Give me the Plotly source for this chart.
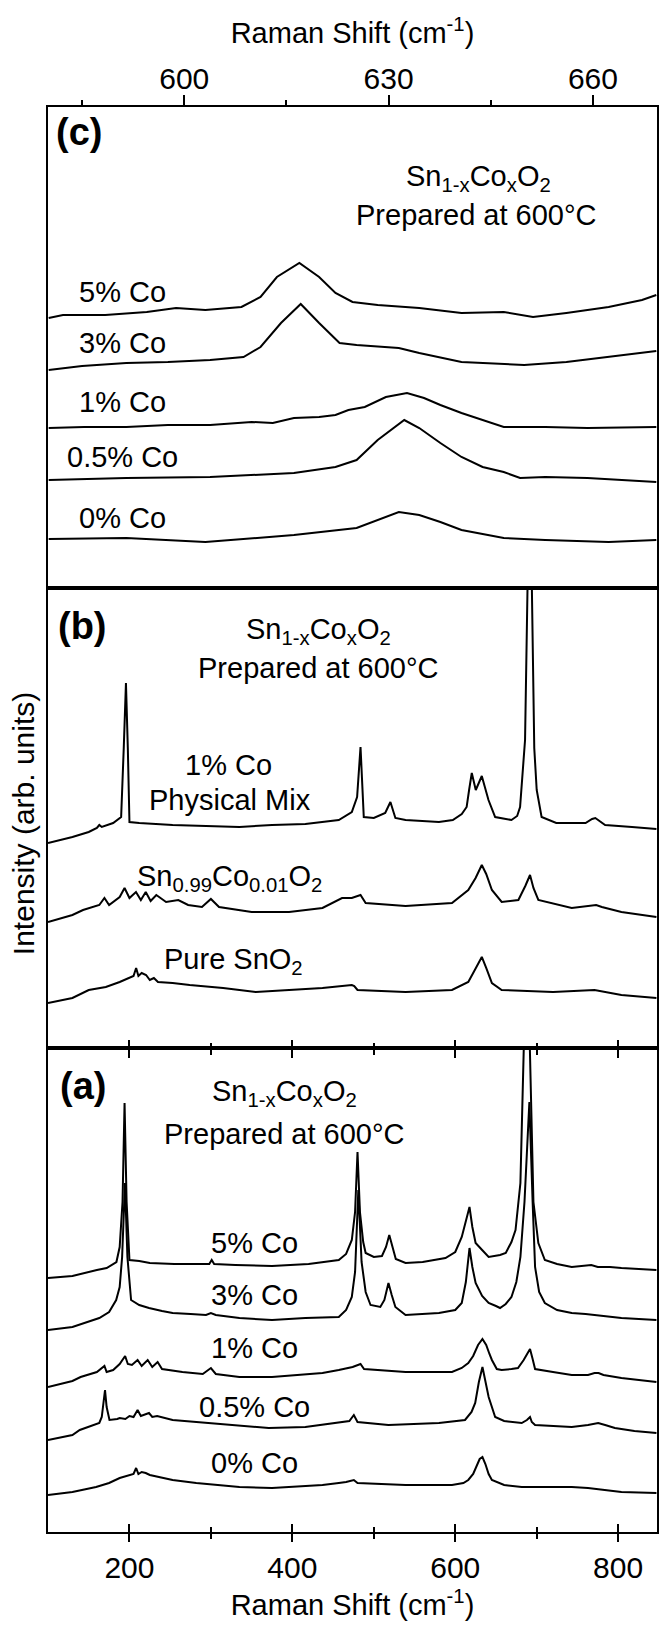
import plotly.graph_objects as go

# ---------------- spectra: (a) Sn1-xCoxO2, full range ----------------
a_co5_shift = [100, 130, 160, 172, 184, 188, 191.5, 194, 196.5, 200, 212, 225, 255, 290, 298, 301, 304, 330, 375, 420,
               457, 466, 473, 477, 480, 483, 487, 490, 500, 510, 515, 519, 523, 527, 539, 560, 588, 600, 608, 613,
               617.5, 621, 625, 633, 641, 655, 662, 669, 674, 680, 688, 696, 702, 710, 725, 743, 760, 767, 775, 790,
               804, 825, 847]
a_co5_int = [254, 256, 262, 264, 270, 285, 330, 429, 330, 272, 271, 269, 268, 268, 268, 272, 268, 267, 266, 268,
             272, 278, 292, 320, 380, 320, 290, 279, 275, 276, 285, 297, 285, 273, 269, 270, 274, 280, 295, 310,
             325, 305, 289, 282, 275, 277, 279, 290, 302, 349, 610, 330, 289, 272, 268, 265, 266, 267, 265, 265,
             264, 263, 262]

a_co3_shift = [100, 130, 163, 175, 183.7, 188, 191, 194.5, 197.5, 200, 202, 212, 224, 240, 253, 275, 294, 300, 306, 335,
               375, 416, 457, 466, 473, 477, 481, 485, 490, 496, 508, 513, 518, 522, 526.5, 539, 560, 580, 600, 608,
               613, 617.5, 621, 625, 633, 641, 650, 655, 662, 669, 675, 680, 685, 691, 695, 698, 703, 710, 725, 743,
               760, 771, 790, 804, 847]
a_co3_int = [202, 205, 214, 220, 232, 245, 275, 349, 275, 245, 232, 227, 224, 221, 219, 218, 217, 219, 217, 214,
             212, 214, 215, 222, 235, 260, 342, 270, 240, 227, 225, 232, 249, 237, 225, 217, 218, 219, 222, 229,
             250, 284, 265, 249, 236, 229, 226, 224, 228, 235, 250, 275, 330, 430, 330, 265, 240, 229, 222, 219,
             218, 217, 216, 214, 212]

a_co1_shift = [100, 130, 140, 160, 169.3, 172, 180, 188, 194.7, 198, 203, 210, 215, 222.4, 228, 234.6, 240, 265, 290, 300,
               306, 335, 375, 437, 457, 474, 483.7, 488, 539, 596, 608, 616, 622, 628, 633.4, 638, 642, 645, 651, 657,
               669, 677, 684, 691.8, 695, 698, 720, 743, 763, 771, 776, 782, 804, 825, 847]
a_co1_int = [145, 151, 155, 160, 166, 160, 162, 168, 176, 168, 167, 172, 166, 172, 165, 170, 163, 160, 158, 164,
             158, 155, 155, 159, 162, 165, 168, 163, 160, 160, 164, 169, 176, 187, 193, 187, 178, 172, 163, 162,
             163, 164, 172, 183, 173, 163, 160, 157, 157, 159, 159, 157, 154, 152, 150]

a_co05_shift = [100, 130, 139, 163, 166, 168, 170, 172, 175.5, 185, 188, 195, 200, 205, 210, 214, 220, 224, 228, 234,
                253, 294, 335, 371, 416, 457, 470, 475.5, 480, 518, 580, 612, 620, 624.5, 629, 633.4, 637, 641, 649, 660,
                681.6, 688, 691.8, 694, 698, 743, 763, 775.5, 784, 796, 820, 847]
a_co05_int = [92, 97, 102, 109, 115, 130, 142, 125, 112, 113, 114, 113, 116, 115, 122, 116, 118, 119, 115, 116,
              112, 109, 106, 104, 105, 110, 111, 117, 110, 107, 109, 112, 120, 129, 150, 165, 150, 135, 115, 111,
              109, 112, 115, 110, 107, 105, 107, 109, 107, 104, 101, 99]

a_co0_shift = [100, 130, 159, 175, 188, 200, 205, 208.2, 211, 215, 220, 225, 230, 253, 282, 335, 375, 437, 457, 466,
               475.5, 480, 539, 596, 610, 616, 622, 627, 630, 633.4, 637, 641, 645, 660, 681.6, 743, 763, 804, 847]
a_co0_int = [37, 40, 45, 49, 54, 57, 58, 64, 58, 60, 59, 57, 56, 52, 49, 45, 44, 47, 49, 50,
             52, 49, 47, 47, 49, 52, 58, 67, 73, 75, 68, 58, 52, 47, 45, 45, 44, 40, 39]

# ---------------- spectra: (b) physical mix vs. solid solution ----------------
b_mix_shift = [100, 130, 150, 160, 163, 166, 180, 189.8, 193, 195.7, 198, 200, 212, 253, 294, 335, 375, 416, 457, 473,
               479.5, 483.7, 487.7, 500, 514, 520.4, 526.5, 539, 580, 597, 608, 614, 617, 620.3, 625.2, 629, 632.6, 636,
               640.8, 649, 669, 676, 679.6, 685.7, 691.5, 697, 700, 706, 724, 760, 768, 772, 777, 784, 817, 847]
b_mix_int = [205, 211, 216, 220, 223, 221, 225, 231, 300, 365, 300, 226, 225, 223, 222, 221, 223, 224, 228, 236,
             251, 301, 231, 230, 235, 246, 230, 228, 226, 228, 234, 241, 258, 275, 258, 266, 272, 262,
             248, 231, 228, 232, 241, 308, 600, 300, 258, 231, 225, 225, 229, 230, 227, 223, 221, 219]

b_sol_shift = [100, 130, 143, 163, 169.3, 175, 188, 194, 200, 208, 214, 220, 226, 233, 245, 260, 272, 289, 300, 310,
               350, 396, 437, 461, 473, 483.7, 490, 539, 596, 616, 625, 632.6, 638, 645, 657, 677.5, 686, 691.8, 696, 702,
               743, 765, 773, 780, 804, 847]
b_sol_int = [126, 133, 138, 143, 150, 143, 151, 160, 150, 156, 148, 156, 147, 153, 146, 148, 143, 141, 149, 141,
             136, 136, 140, 150, 150, 153, 145, 142, 145, 158, 170, 183, 174, 158, 146, 148, 162, 173, 160, 148,
             140, 142, 143, 141, 136, 131]

b_pure_shift = [100, 130, 150, 171, 188, 200, 205, 208.2, 211, 215, 220.4, 225, 230, 235, 253, 274, 315, 355, 396, 437,
                473, 476, 480, 539, 596, 616, 624, 632.6, 638, 645, 657, 720, 771, 804, 847]
b_pure_int = [45, 50, 58, 61, 66, 70, 72, 80, 72, 75, 73, 68, 70, 66, 65, 63, 60, 56, 58, 60,
              63, 62, 58, 56, 58, 66, 78, 91, 80, 65, 58, 56, 58, 53, 50]

# ---------------- spectra: (c) A1g region, expanded ----------------
c_co5_shift = [580.1, 582.2, 588.4, 594.5, 598.8, 603.1, 608.4, 611.2, 613.6, 616.9, 619.8, 622.2, 624.7, 628.4, 634.5,
               640.7, 646.9, 651.2, 656.1, 662.3, 667.2, 669.3]
c_co5_int = [270, 273, 273, 276, 280, 278, 281, 291, 311, 325, 311, 295, 286, 283, 280,
             275, 276, 271, 275, 281, 288, 293]

c_co3_shift = [580.1, 582.8, 585, 591.5, 597.6, 603.8, 608.7, 611.2, 614.2, 617.1, 619.8, 622.8, 625.3, 631.5, 634.5,
               640.7, 649.9, 656.1, 662.3, 669.3]
c_co3_int = [218, 220, 222, 225, 226, 228, 231, 241, 265, 284, 265, 245, 243, 240, 235,
             226, 223, 226, 231, 237]

c_co1_shift = [580.1, 585.3, 591.5, 597.6, 603.8, 609.9, 613.0, 616.1, 619.8, 622.2, 624.1, 626.5, 629.6, 632.7, 635.2,
               637.6, 640.7, 643.8, 646.9, 653.0, 659.2, 669.3]
c_co1_int = [160, 161, 161, 163, 163, 166, 165, 170, 171, 173, 178, 181, 191, 195, 190,
             183, 175, 168, 161, 161, 160, 161]

c_co05_shift = [580.1, 591.5, 603.8, 616.1, 622.2, 625.3, 628.4, 632.3, 634.5, 637.6, 640.7, 643.8, 646.9, 649.3, 653.0,
                659.2, 669.3]
c_co05_int = [108, 110, 111, 115, 121, 128, 148, 168, 160, 145, 131, 121, 116, 110, 111,
              110, 106]

c_co0_shift = [580.1, 591.5, 603.1, 616.1, 625.3, 628.4, 631.5, 634.5, 637.6, 640.7, 646.9, 653.0, 662.3, 669.3]
c_co0_int = [49, 50, 46, 53, 60, 68, 76, 73, 66, 58, 50, 48, 46, 48]

# ---------------- axis ticks ----------------
wide_ticks = [200, 400, 600, 800]
wide_minor = [300, 500, 700]
zoom_ticks = [600, 630, 660]
zoom_minor = [585, 615, 645]

FONT = "Liberation Sans, Arial, sans-serif"
LABEL_SIZE = 29
TICK_SIZE = 30
PANEL_SIZE = 38
INK = "black"

fig = go.Figure()


def add_spectrum(xs, ys, xa, ya):
    fig.add_trace(go.Scatter(x=xs, y=ys, mode="lines", xaxis=xa, yaxis=ya,
                             line=dict(color=INK, width=2), showlegend=False,
                             hoverinfo="skip"))


for xs, ys in [(a_co5_shift, a_co5_int), (a_co3_shift, a_co3_int), (a_co1_shift, a_co1_int),
               (a_co05_shift, a_co05_int), (a_co0_shift, a_co0_int)]:
    add_spectrum(xs, ys, "x", "y")
for xs, ys in [(b_mix_shift, b_mix_int), (b_sol_shift, b_sol_int), (b_pure_shift, b_pure_int)]:
    add_spectrum(xs, ys, "x2", "y2")
for xs, ys in [(c_co5_shift, c_co5_int), (c_co3_shift, c_co3_int), (c_co1_shift, c_co1_int),
               (c_co05_shift, c_co05_int), (c_co0_shift, c_co0_int)]:
    add_spectrum(xs, ys, "x3", "y3")

# empty traces so the overlaid inner-tick axes get drawn
fig.add_trace(go.Scatter(x=[], y=[], xaxis="x4", yaxis="y", showlegend=False))
fig.add_trace(go.Scatter(x=[], y=[], xaxis="x5", yaxis="y2", showlegend=False))

wide_range = [100, 847.7]
frame = dict(showline=True, linewidth=2, linecolor=INK, mirror=True, showgrid=False, zeroline=False)


def outer_ticks(**kw):
    d = dict(range=wide_range, tickvals=wide_ticks, ticks="outside", ticklen=8, tickwidth=2,
             tickcolor=INK, minor=dict(tickvals=wide_minor, ticks="outside", ticklen=5, tickwidth=2,
                                       tickcolor=INK), **frame)
    d.update(kw)
    return d


def inner_ticks(over, anchor):
    return dict(range=wide_range, overlaying=over, anchor=anchor, side="bottom", tickvals=wide_ticks,
                ticks="inside", ticklen=8, tickwidth=2, tickcolor=INK, showticklabels=False,
                showline=False, showgrid=False, zeroline=False,
                minor=dict(tickvals=wide_minor, ticks="inside", ticklen=5, tickwidth=2, tickcolor=INK))


yframe = dict(showticklabels=False, ticks="", **frame)

fig.update_layout(
    width=660, height=1629,
    margin=dict(l=48, r=1, t=107, b=97),
    paper_bgcolor="white", plot_bgcolor="white",
    font=dict(family=FONT, color=INK, size=LABEL_SIZE),
    xaxis=outer_ticks(anchor="y", domain=[0, 1],
                      tickfont=dict(size=TICK_SIZE),
                      title=dict(text="Raman Shift (cm<sup>-1</sup>)", font=dict(size=LABEL_SIZE), standoff=12)),
    xaxis2=outer_ticks(anchor="y2", domain=[0, 1], showticklabels=False),
    xaxis3=dict(anchor="y3", domain=[0, 1], side="top", range=[580, 669.4], tickvals=zoom_ticks,
                ticks="outside", ticklen=10, tickwidth=2, tickcolor=INK,
                minor=dict(tickvals=zoom_minor, ticks="outside", ticklen=5, tickwidth=2, tickcolor=INK),
                tickfont=dict(size=TICK_SIZE), ticklabelstandoff=-6,
                title=dict(text="Raman Shift (cm<sup>-1</sup>)", font=dict(size=LABEL_SIZE), standoff=10),
                **frame),
    xaxis4=inner_ticks("x", "y"),
    xaxis5=inner_ticks("x2", "y2"),
    yaxis=dict(domain=[0, 0.33965], range=[0, 484], **yframe),
    yaxis2=dict(domain=[0.33965, 0.66246], range=[0, 460], **yframe),
    yaxis3=dict(domain=[0.66246, 1], range=[0, 481], **yframe),
)

notes = []


def label(text, x, y, xref, yref, size=LABEL_SIZE, bold=False):
    t = f"<b>{text}</b>" if bold else text
    notes.append(dict(text=t, x=x, y=y, xref=xref, yref=yref, showarrow=False,
                      xanchor="center", yanchor="middle", font=dict(size=size, family=FONT, color=INK)))


formula = "Sn<sub>1-x</sub>Co<sub>x</sub>O<sub>2</sub>"

# panel (a)
label("(a)", 143, 446, "x", "y", size=PANEL_SIZE, bold=True)
label(formula, 389.8, 439, "x", "y")
label("Prepared at 600°C", 389.8, 398, "x", "y")
for txt, yy in [("5% Co", 289), ("3% Co", 237), ("1% Co", 184), ("0.5% Co", 125), ("0% Co", 69)]:
    label(txt, 353.0, yy, "x", "y")

# panel (b)
label("(b)", 142, 422, "x2", "y2", size=PANEL_SIZE, bold=True)
label(formula, 432.6, 417, "x2", "y2")
label("Prepared at 600°C", 432.6, 380, "x2", "y2")
label("1% Co", 321.2, 283, "x2", "y2")
label("Physical Mix", 323.7, 248, "x2", "y2")
label("Sn<sub>0.99</sub>Co<sub>0.01</sub>O<sub>2</sub>", 322.4, 170, "x2", "y2")
label("Pure SnO<sub>2</sub>", 327.3, 87, "x2", "y2")

# panel (c)
label("(c)", 584.6, 456, "x3", "y3", size=PANEL_SIZE, bold=True)
label(formula, 643.2, 410, "x3", "y3")
label("Prepared at 600°C", 642.9, 373, "x3", "y3")
for txt, yy in [("5% Co", 296), ("3% Co", 245), ("1% Co", 186), ("0.5% Co", 131), ("0% Co", 70)]:
    label(txt, 591.0, yy, "x3", "y3")

# shared intensity axis title
notes.append(dict(text="Intensity (arb. units)", x=-0.0409, y=0.4968, xref="paper", yref="paper",
                  showarrow=False, textangle=-90, xanchor="center", yanchor="middle",
                  font=dict(size=30, family=FONT, color=INK)))

fig.update_layout(annotations=notes)
fig.write_html("out.html")
